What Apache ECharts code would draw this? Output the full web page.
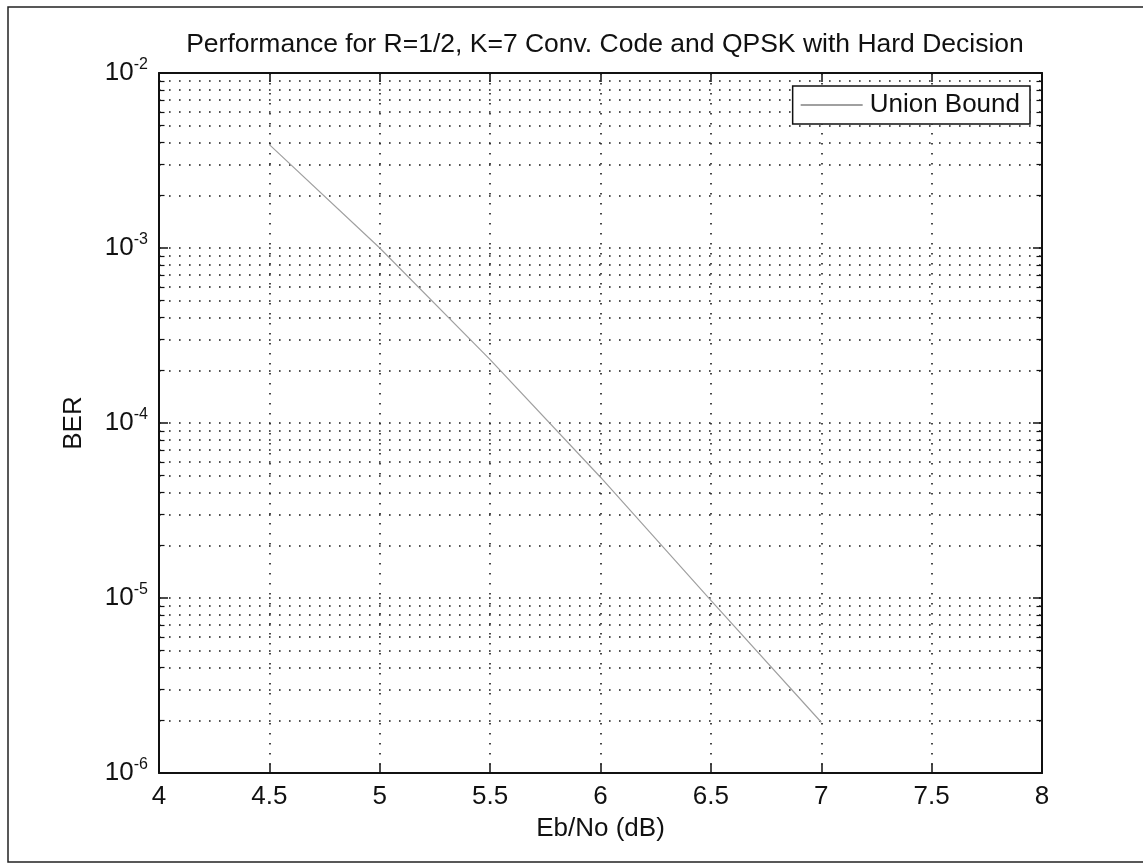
<!DOCTYPE html>
<html>
<head>
<meta charset="utf-8">
<script src="https://cdn.jsdelivr.net/npm/echarts@6/dist/echarts.min.js"></script>
<style>
html,body{margin:0;padding:0;background:#fff;}
#chart{width:1143px;height:865px;}
</style>
</head>
<body>
<div id="chart"></div>
<script>
// ---- data ----
var ebno = [4.5, 5.0, 5.5, 6.0, 6.5, 7.0];
var unionBound = [3.9e-3, 1.0e-3, 2.3e-4, 4.9e-5, 9.7e-6, 1.95e-6];
var xTicks = [4, 4.5, 5, 5.5, 6, 6.5, 7, 7.5, 8];
var decades = [1e-6, 1e-5, 1e-4, 1e-3, 1e-2];
var minorMult = [2, 3, 4, 5, 6, 7, 8, 9];
var seriesName = 'Union Bound';
var titleText = 'Performance for R=1/2, K=7 Conv. Code and QPSK with Hard Decision';
var xName = 'Eb/No (dB)';
var yName = 'BER';

var FONT = 'Liberation Sans, Arial, sans-serif';
var FS = 26;
var xMin = xTicks[0], xMax = xTicks[xTicks.length - 1];

var minorVals = [];
for (var d = 0; d < decades.length - 1; d++) {
  for (var m = 0; m < minorMult.length; m++) minorVals.push(decades[d] * minorMult[m]);
}

var gridDot = {color: '#1a1a1a', width: 1.6, type: [1.6, 8.4]};

// minor dotted grid lines (full width)
var minorGrid = minorVals.map(function (v) {
  return [{coord: [xMin, v]}, {coord: [xMax, v]}];
});
// minor ticks inside on left and right
var tickLenX = 0.025;
var minorTicks = [];
minorVals.forEach(function (v) {
  minorTicks.push([{coord: [xMin, v]}, {coord: [xMin + tickLenX, v]}]);
  minorTicks.push([{coord: [xMax - tickLenX, v]}, {coord: [xMax, v]}]);
});

var chart = echarts.init(document.getElementById('chart'), null, {renderer: 'canvas'});

var option = {
  backgroundColor: '#fff',
  animation: false,
  title: {
    text: titleText,
    left: 600, textAlign: 'center',
    top: 26,
    textStyle: {fontFamily: FONT, fontSize: 26.5, fontWeight: 'normal', color: '#111'}
  },
  legend: {
    right: 113, top: 86,
    z: 20, zlevel: 0,
    orient: 'vertical',
    backgroundColor: '#fff',
    borderColor: '#111', borderWidth: 1.5,
    padding: [6, 10, 6, 8],
    itemWidth: 62, itemHeight: 2, itemGap: 0,
    textStyle: {fontFamily: FONT, fontSize: FS, color: '#111', padding: [0, 0, 0, 2]},
    data: [{name: seriesName, icon: 'rect'}]
  },
  grid: {left: 159, right: 101, top: 73, bottom: 92, containLabel: false},
  xAxis: [{
    type: 'value', min: xMin, max: xMax, interval: 0.5,
    name: xName, nameLocation: 'middle', nameGap: 43,
    nameTextStyle: {fontFamily: FONT, fontSize: FS, color: '#111'},
    axisLine: {show: true, onZero: false, lineStyle: {color: '#111', width: 2}},
    axisTick: {show: true, inside: true, length: 9, lineStyle: {color: '#111', width: 1.5}},
    axisLabel: {margin: 11, fontFamily: FONT, fontSize: FS, color: '#111',
      formatter: function (v) { return String(v); }},
    splitLine: {show: true, lineStyle: gridDot}
  }, {
    type: 'value', min: xMin, max: xMax, interval: 0.5, position: 'top',
    axisLine: {show: true, onZero: false, lineStyle: {color: '#111', width: 2}},
    axisTick: {show: true, inside: true, length: 9, lineStyle: {color: '#111', width: 1.5}},
    axisLabel: {show: false}, splitLine: {show: false}
  }],
  yAxis: [{
    type: 'log', logBase: 10, min: decades[0], max: decades[decades.length - 1],
    name: yName, nameLocation: 'middle', nameGap: 72, nameRotate: 90,
    nameTextStyle: {fontFamily: FONT, fontSize: FS, color: '#111'},
    axisLine: {show: true, onZero: false, lineStyle: {color: '#111', width: 2}},
    axisTick: {show: true, inside: true, length: 9, lineStyle: {color: '#111', width: 1.5}},
    axisLabel: {
      margin: 11,
      formatter: function (v) {
        var e = Math.round(Math.log10(v));
        return '{b|10}{s|' + e + '}';
      },
      rich: {
        b: {fontFamily: FONT, fontSize: FS, color: '#111', lineHeight: 32},
        s: {fontFamily: FONT, fontSize: 16, color: '#111', verticalAlign: 'top'}
      }
    },
    splitLine: {show: true, lineStyle: gridDot}
  }, {
    type: 'log', logBase: 10, min: decades[0], max: decades[decades.length - 1], position: 'right',
    axisLine: {show: true, onZero: false, lineStyle: {color: '#111', width: 2}},
    axisTick: {show: true, inside: true, length: 9, lineStyle: {color: '#111', width: 1.5}},
    axisLabel: {show: false}, splitLine: {show: false}
  }],
  graphic: [{
    type: 'rect', silent: true, z: -10,
    shape: {x: 8, y: 7, width: 1300, height: 855},
    style: {fill: 'none', stroke: '#222', lineWidth: 1.5}
  }],
  series: [{
    name: '_grid', type: 'line', data: [], silent: true, z: 1,
    markLine: {
      silent: true, symbol: 'none', animation: false, z: 1,
      label: {show: false},
      lineStyle: gridDot,
      data: minorGrid
    }
  }, {
    name: '_ticks', type: 'line', data: [], silent: true, z: 1,
    markLine: {
      silent: true, symbol: 'none', animation: false, z: 1,
      label: {show: false},
      lineStyle: {color: '#111', width: 1.2, type: 'solid'},
      data: minorTicks
    }
  }, {
    name: seriesName, type: 'line',
    data: ebno.map(function (x, i) { return [x, unionBound[i]]; }),
    showSymbol: false, symbol: 'none',
    lineStyle: {color: '#a0a0a0', width: 1.2},
    itemStyle: {color: '#a0a0a0'},
    z: 5
  }]
};
chart.setOption(option);
</script>
</body>
</html>
